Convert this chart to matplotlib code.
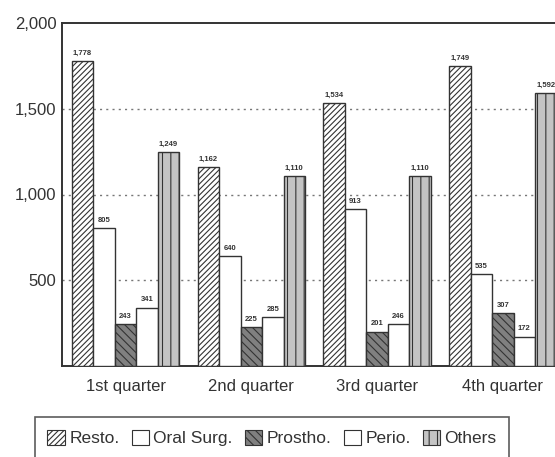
import matplotlib
matplotlib.use("Agg")
import matplotlib.pyplot as plt
import matplotlib.patches as mpatches
import numpy as np

plt.rcParams['font.family'] = ['Liberation Sans', 'DejaVu Sans']
plt.rcParams['hatch.linewidth'] = 0.8

quarters = ["1st quarter", "2nd quarter", "3rd quarter", "4th quarter"]
series = ["Resto.", "Oral Surg.", "Prostho.", "Perio.", "Others"]
resto = [1778, 1162, 1534, 1749]
oral_surg = [805, 640, 913, 535]
prostho = [243, 225, 201, 307]
perio = [341, 285, 246, 172]
others = [1249, 1110, 1110, 1592]
yticks = [500, 1000, 1500, 2000]
ytick_labels = ["500", "1,000", "1,500", "2,000"]

values = [resto, oral_surg, prostho, perio, others]
styles = [
    dict(facecolor="white", hatch="//////", edgecolor="#333333"),
    dict(facecolor="white", hatch=None, edgecolor="#333333"),
    dict(facecolor="#808080", hatch="\\\\\\\\", edgecolor="#333333"),
    dict(facecolor="white", hatch=None, edgecolor="#333333"),
    dict(facecolor="#c4c4c4", hatch="||", edgecolor="#333333"),
]

fig = plt.figure(figsize=(5.55, 4.57), dpi=100)
ax = fig.add_axes([62/555, (457-366)/457, (562-62)/555, (366-23)/457])

x = np.arange(len(quarters))
w = 0.171
for i, (vals, st) in enumerate(zip(values, styles)):
    pos = x + (i - 2) * w
    bars = ax.bar(pos, vals, width=w, linewidth=1.0, zorder=3, **st)
    for b, v in zip(bars, vals):
        ax.text(b.get_x() + b.get_width()/2, v + 25, f"{v:,}",
                ha="center", va="bottom", fontsize=5.5, fontweight="bold",
                color="#333333", zorder=4)

ax.set_xlim(-0.505, 3.47)
ax.set_ylim(0, 2000)
ax.set_yticks(yticks)
ax.set_yticklabels(ytick_labels, fontsize=12, color="#333333")
ax.set_xticks(x)
ax.set_xticklabels(quarters, fontsize=12, color="#333333")
ax.tick_params(axis="x", length=0, pad=9)
ax.tick_params(axis="y", length=0, pad=4)
for yv in yticks[:-1]:
    ax.axhline(yv, color="#777777", linestyle=(0, (1.5, 3)), linewidth=1.0, zorder=1)
for s in ["left", "bottom", "top"]:
    ax.spines[s].set_linewidth(1.4)
    ax.spines[s].set_color("#333333")
ax.spines["right"].set_visible(False)

handles = [mpatches.Patch(label=n, linewidth=0.8, **st) for n, st in zip(series, styles)]
leg = fig.legend(handles=handles, loc="center", bbox_to_anchor=(272/555, 1 - 438/457),
                 ncol=5, fontsize=12.5, frameon=True, fancybox=False, edgecolor="#333333",
                 handlelength=1.0, handleheight=1.0, handletextpad=0.25, columnspacing=0.7,
                 borderpad=0.7)
leg.get_frame().set_linewidth(1.2)
for t in leg.get_texts():
    t.set_color("#333333")

fig.savefig("out.png", dpi=100)
